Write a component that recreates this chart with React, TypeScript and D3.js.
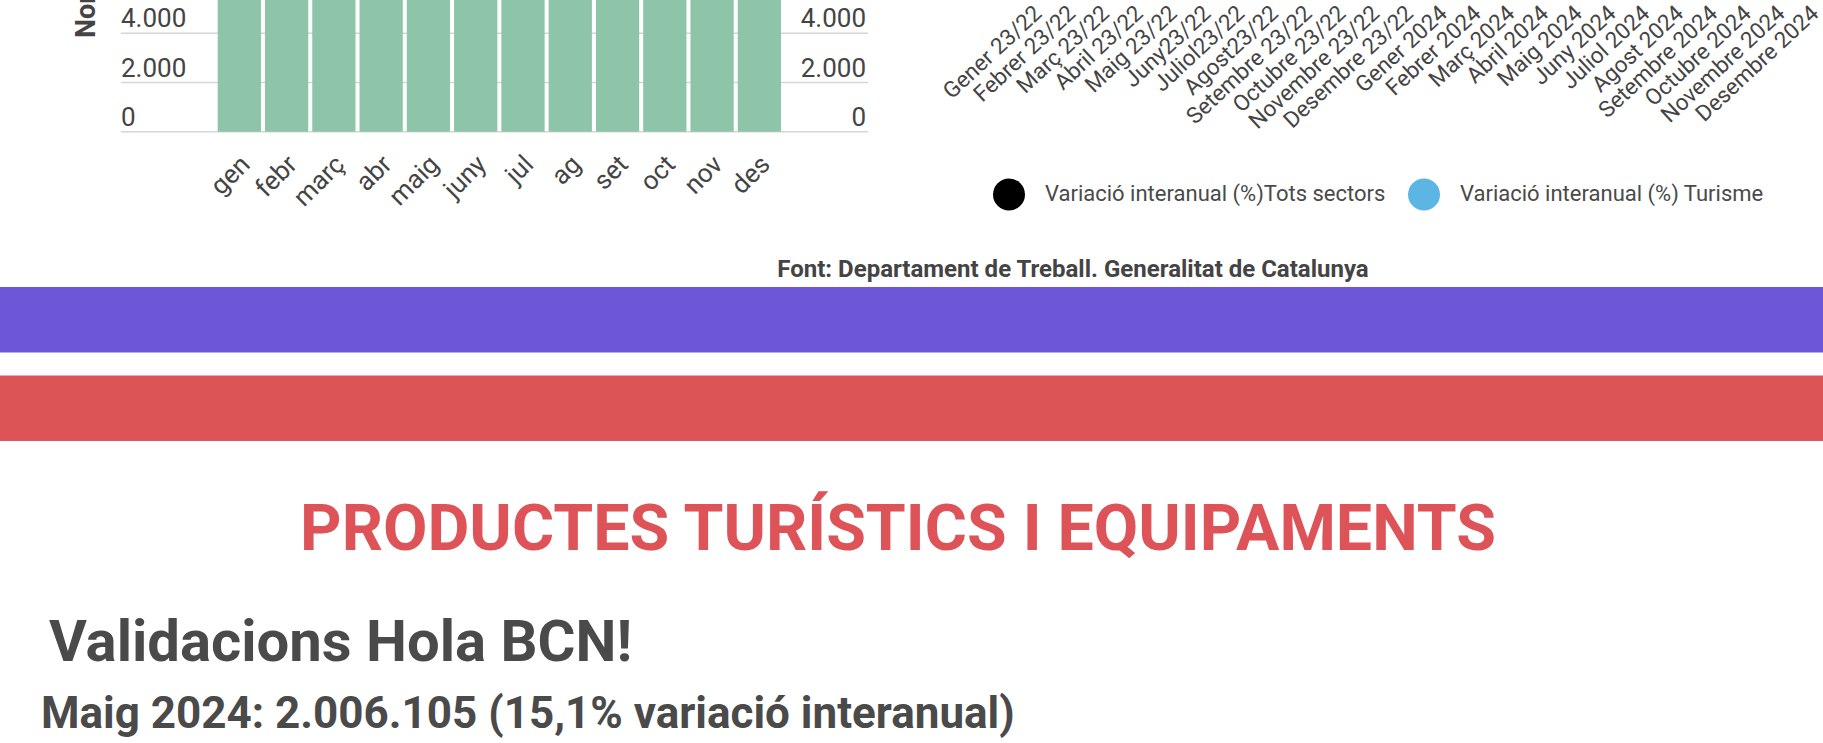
import React, { useEffect, useRef } from "react";
import * as d3 from "d3";

// monthly bars (top of the bars is cut off in the screenshot)
const mesos = ["gen", "febr", "març", "abr", "maig", "juny", "jul", "ag", "set", "oct", "nov", "des"];
const valorsMesos = [6400, 6600, 7100, 7300, 7500, 7700, 7600, 7400, 7200, 7000, 6800, 6700];
const ticksY = [0, 2000, 4000];

// second chart: only the x labels are visible
const mesosVariacio = [
    "Gener 23/22", "Febrer 23/22", "Març 23/22", "Abril 23/22", "Maig 23/22", "Juny23/22",
    "Juliol23/22", "Agost23/22", "Setembre 23/22", "Octubre 23/22", "Novembre 23/22", "Desembre 23/22",
    "Gener 2024", "Febrer 2024", "Març 2024", "Abril 2024", "Maig 2024", "Juny 2024",
    "Juliol 2024", "Agost 2024", "Setembre 2024", "Octubre 2024", "Novembre 2024", "Desembre 2024"
];
const llegendaNoms = ["Variació interanual (%)Tots sectors", "Variació interanual (%) Turisme"];
const llegendaColors = ["#000000", "#5db5e4"];

const validacionsMaig = 2006105;
const variacioMaig = 15.1;

const W = 1823;
const H = 743;
const FONT = "Roboto, sans-serif";

const ca = d3.formatLocale({ decimal: ",", thousands: ".", grouping: [3], currency: ["", " €"] });

const App = () => {
    const ref = useRef<SVGSVGElement>(null);

    useEffect(() => {
        const svg = d3.select(ref.current);
        svg.selectAll("*").remove();

        // ---- bar chart ----
        const x = d3.scaleBand()
            .domain(mesos)
            .range([217.7, 781])
            .paddingInner(0.085);
        const y = d3.scaleLinear()
            .domain([0, 4000])
            .range([131.7, 33.3]);

        const g = svg.append("g");

        g.selectAll(".grid")
            .data(ticksY)
            .enter().append("line")
            .attr("x1", 121)
            .attr("x2", 868)
            .attr("y1", d => y(d))
            .attr("y2", d => y(d))
            .attr("stroke", "#d6d6d6")
            .attr("stroke-width", 1.5);

        g.selectAll(".bar")
            .data(valorsMesos)
            .enter().append("rect")
            .attr("fill", "#8ec4a8")
            .attr("x", (d, i) => x(mesos[i])!)
            .attr("y", d => y(d))
            .attr("width", x.bandwidth())
            .attr("height", d => y(0) - y(d));

        const fmt = ca.format(",");
        g.selectAll(".tl")
            .data(ticksY)
            .enter().append("text")
            .attr("x", 121)
            .attr("y", d => y(d) - 6)
            .attr("font-size", 26)
            .attr("fill", "#444")
            .text(d => fmt(d));
        g.selectAll(".tr")
            .data(ticksY)
            .enter().append("text")
            .attr("x", 866)
            .attr("y", d => y(d) - 6)
            .attr("text-anchor", "end")
            .attr("font-size", 26)
            .attr("fill", "#444")
            .text(d => fmt(d));

        g.append("text")
            .attr("transform", "translate(95,38) rotate(-90)")
            .attr("font-size", 27)
            .attr("font-weight", "bold")
            .attr("fill", "#444")
            .text("Nombre");

        g.selectAll(".xl")
            .data(mesos)
            .enter().append("text")
            .attr("transform", d => `translate(${x(d)! + x.bandwidth() / 2 + 12},166) rotate(-45)`)
            .attr("text-anchor", "end")
            .attr("font-size", 26)
            .attr("fill", "#444")
            .text(d => d);

        // ---- second chart labels ----
        const x2 = d3.scalePoint()
            .domain(mesosVariacio)
            .range([1043, 1820]);
        svg.append("g").selectAll("text")
            .data(mesosVariacio)
            .enter().append("text")
            .attr("transform", d => `translate(${x2(d)},15) rotate(-43)`)
            .attr("text-anchor", "end")
            .attr("font-size", 22.5)
            .attr("fill", "#444")
            .text(d => d);

        // legend
        const leg = svg.append("g");
        const legX = [1009, 1424];
        llegendaNoms.forEach((nom, i) => {
            leg.append("circle")
                .attr("cx", legX[i])
                .attr("cy", 194.5)
                .attr("r", 16)
                .attr("fill", llegendaColors[i]);
            leg.append("text")
                .attr("x", legX[i] + 36)
                .attr("y", 201)
                .attr("font-size", 22)
                .attr("fill", "#4a4a4a")
                .text(nom);
        });

        svg.append("text")
            .attr("x", 1073)
            .attr("y", 277)
            .attr("text-anchor", "middle")
            .attr("font-size", 24)
            .attr("font-weight", "bold")
            .attr("fill", "#444")
            .text("Font: Departament de Treball. Generalitat de Catalunya");

        // colour bands
        svg.append("rect").attr("x", 0).attr("y", 287).attr("width", W).attr("height", 65.5).attr("fill", "#6e56d9");
        svg.append("rect").attr("x", 0).attr("y", 375.5).attr("width", W).attr("height", 65.5).attr("fill", "#dc5456");

        // section heading
        svg.append("text")
            .attr("x", 898)
            .attr("y", 550)
            .attr("text-anchor", "middle")
            .attr("font-size", 64.5)
            .attr("font-weight", "bold")
            .attr("fill", "#de5358")
            .text("PRODUCTES TURÍSTICS I EQUIPAMENTS");

        svg.append("text")
            .attr("x", 49)
            .attr("y", 661)
            .attr("font-size", 58)
            .attr("font-weight", "bold")
            .attr("fill", "#4a4a4a")
            .text("Validacions Hola BCN!");

        const pct = ca.format(".1f");
        svg.append("text")
            .attr("x", 41)
            .attr("y", 728)
            .attr("font-size", 44)
            .attr("font-weight", "bold")
            .attr("fill", "#4a4a4a")
            .text(`Maig 2024: ${ca.format(",")(validacionsMaig)} (${pct(variacioMaig)}% variació interanual)`);
    });

    return (
        <svg ref={ref} width={W} height={H} fontFamily={FONT}
            style={{ position: "absolute", left: 0, top: 0, background: "#fff" }} />
    );
};

export default App;
